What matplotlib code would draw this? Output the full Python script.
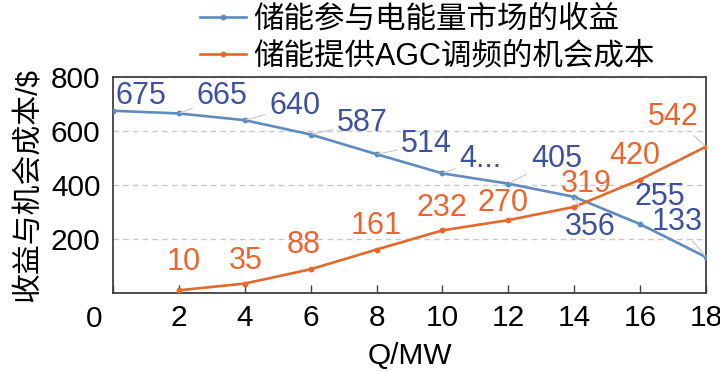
import matplotlib
matplotlib.use("Agg")
import matplotlib.pyplot as plt

plt.rcParams['font.family'] = ['Liberation Sans', 'Noto Sans CJK SC', 'DejaVu Sans']

# ---- data ----
q = [0, 2, 4, 6, 8, 10, 12, 14, 16, 18]
revenue = [675, 665, 640, 587, 514, 443, 405, 356, 255, 133]
revenue_labels = ['675', '665', '640', '587', '514', '4...', '405', '356', '255', '133']
q_cost = [2, 4, 6, 8, 10, 12, 14, 16, 18]
opp_cost = [10, 35, 88, 161, 232, 270, 319, 420, 542]
series_names = ['储能参与电能量市场的收益', '储能提供AGC调频的机会成本']
x_ticks = [0, 2, 4, 6, 8, 10, 12, 14, 16, 18]
y_ticks = [0, 200, 400, 600, 800]

# ---- style ----
blue_line = '#5E8CBF'
blue_text = '#3E519E'
orange_line = '#E4692B'
orange_text = '#EC6530'
leader_c = '#C9C9C9'

# label offsets (pixels) and whether to draw a leader line
rev_off = [(28, 15), (43, 17), (50, 14), (52, 12), (50, 10), (38, 14), (48, 25), (16, -30), (20, 27), (-29, 35)]
rev_lead = [False, True, True, True, True, True, True, True, False, True]
cost_off = [(5, 28), (1, 23), (-7, 24), (0, 24), (-1, 22), (-5, 17), (12, 23), (-5, 24), (-33, 30)]
cost_lead = [False, False, False, False, False, False, False, False, True]

fig = plt.figure(figsize=(7.2, 3.71), dpi=100)
ax = fig.add_axes([113/720, 1-293/371, (706-113)/720, (293-77)/371])

l1, = ax.plot(q, revenue, color=blue_line, lw=1.9, marker='o', ms=3.2, zorder=3)
l2, = ax.plot(q_cost, opp_cost, color=orange_line, lw=1.9, marker='o', ms=3.2, zorder=3)

fs = 22
tfs = 21.5
for x, y, t, off, lead in zip(q, revenue, revenue_labels, rev_off, rev_lead):
    ap = dict(arrowstyle='-', color=leader_c, lw=0.8, shrinkA=1, shrinkB=1) if lead else None
    ax.annotate(t, (x, y), xytext=off, textcoords='offset pixels', ha='center', va='center',
                color=blue_text, fontsize=fs, arrowprops=ap, zorder=4, annotation_clip=False)
for x, y, off, lead in zip(q_cost, opp_cost, cost_off, cost_lead):
    ap = dict(arrowstyle='-', color=leader_c, lw=0.8, shrinkA=1, shrinkB=1) if lead else None
    ax.annotate(str(y), (x, y), xytext=off, textcoords='offset pixels', ha='center', va='center',
                color=orange_text, fontsize=fs, arrowprops=ap, zorder=4, annotation_clip=False)

ax.set_xlim(0, 18)
ax.set_ylim(0, 800)
ax.set_xticks(x_ticks)
ax.set_xticklabels([''] + [str(v) for v in x_ticks[1:]])
ax.set_yticks(y_ticks)
ax.set_yticklabels([''] + [str(v) for v in y_ticks[1:]])
ax.annotate(str(x_ticks[0]), (0, 0), xycoords=('data', 'axes fraction'), xytext=(-19, -26),
            textcoords='offset pixels', ha='center', va='center', fontsize=tfs, annotation_clip=False)
ax.tick_params(axis='x', direction='in', length=6, width=1, color='#404040', labelsize=tfs, pad=8)
ax.tick_params(axis='y', length=0, labelsize=tfs, pad=9)
for s in ax.spines.values():
    s.set_color('#404040')
    s.set_linewidth(1.3)
ax.grid(axis='y', color='#C8C8C8', ls=(0, (4, 3)), lw=1)
ax.set_axisbelow(True)

ax.set_xlabel('Q/MW', fontsize=tfs, labelpad=7)
ax.set_ylabel('收益与机会成本/$', fontsize=tfs, labelpad=6)

fig.legend([l1, l2], series_names, loc='upper left', bbox_to_anchor=(200/720, 1 - 5/371),
           frameon=False, fontsize=22, handlelength=1.5, handletextpad=0.25,
           labelspacing=0.22, borderpad=0.0, borderaxespad=0.0)

fig.savefig('out.png', dpi=100)
